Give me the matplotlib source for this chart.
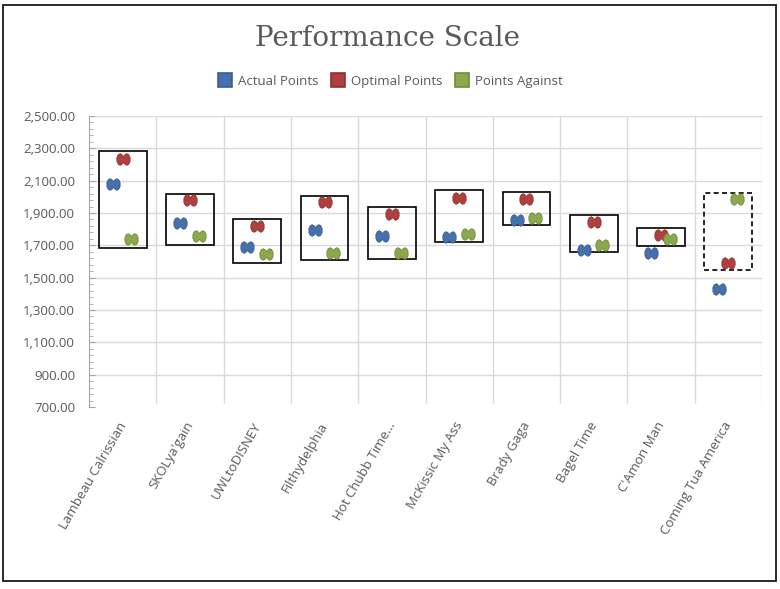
import matplotlib
matplotlib.use("Agg")
import matplotlib.pyplot as plt
from matplotlib.path import Path
from matplotlib.patches import Rectangle
from matplotlib.lines import Line2D
import matplotlib.transforms as mtransforms
import numpy as np

teams = ["Lambeau Calrissian", "SKOLya'gain", "UWLtoDISNEY", "Filthydelphia",
         "Hot Chubb Time...", "McKissic My Ass", "Brady Gaga", "Bagel Time",
         "C'Amon Man", "Coming Tua America"]
actual_points = [2077, 1836, 1689, 1793, 1757, 1751, 1856, 1669, 1650, 1429]
optimal_points = [2234, 1978, 1821, 1970, 1895, 1990, 1984, 1842, 1763, 1592]
points_against = [1737, 1757, 1644, 1650, 1654, 1768, 1869, 1700, 1737, 1984]
box_open = [1681, 1705, 1588, 1607, 1613, 1719, 1823, 1656, 1694, 2026]
box_close = [2281, 2015, 1865, 2007, 1939, 2040, 2028, 1885, 1805, 1545]
y_ticks = [700, 900, 1100, 1300, 1500, 1700, 1900, 2100, 2300, 2500]

plt.rcParams['font.family'] = ['Open Sans', 'DejaVu Sans']
TXT = '#595959'

fig = plt.figure(figsize=(7.8, 5.89), dpi=100)
ax = fig.add_axes([89/780, 1-407/589, (762-89)/780, (407-116)/589])

# double-lobed marker
verts = [(-1.0, 0.3), (-0.8, 0.72), (-0.5, 0.88), (-0.22, 0.72), (0, 0.45),
         (0.22, 0.72), (0.5, 0.88), (0.8, 0.72), (1.0, 0.3),
         (1.0, -0.3), (0.8, -0.72), (0.5, -0.88), (0.22, -0.72), (0, -0.45),
         (-0.22, -0.72), (-0.5, -0.88), (-0.8, -0.72), (-1.0, -0.3), (-1.0, 0.3)]
codes = [Path.MOVETO] + [Path.LINETO]*(len(verts)-2) + [Path.CLOSEPOLY]
dmark = Path(verts, codes)

x = np.arange(len(teams))
series = [
    ("Actual Points", actual_points, '#4670AC', '#3A5F91', -0.145),
    ("Optimal Points", optimal_points, '#B0403D', '#8E3432', 0.0),
    ("Points Against", points_against, '#8BA94C', '#708A3C', 0.13),
]

# boxes (up/down bars)
bw = 0.71
for i in range(len(teams)):
    lo = min(box_open[i], box_close[i])
    hi = max(box_open[i], box_close[i])
    ls = (0, (3, 2)) if box_open[i] > box_close[i] else '-'
    ax.add_patch(Rectangle((x[i]-bw/2, lo), bw, hi-lo, fill=False,
                           edgecolor='black', lw=1.2, linestyle=ls, zorder=3))

for name, vals, fc, ec, off in series:
    ax.plot(x+off, vals, linestyle='none', marker=dmark, markersize=9.5,
            markerfacecolor=fc, markeredgecolor=ec, markeredgewidth=0.6, zorder=4)

# grid
for yv in y_ticks[1:]:
    ax.axhline(yv, color='#D9D9D9', lw=1.0, zorder=1)
ax.vlines(np.arange(len(teams))+0.5, 725, 2500, color='#D9D9D9', lw=1.0, zorder=1)

ax.set_xlim(-0.5, len(teams)-0.5)
ax.set_ylim(700, 2500)
ax.set_yticks(y_ticks)
ax.set_yticklabels([f"{v:,.2f}" for v in y_ticks])
ax.set_yticks(np.arange(700, 2501, 40), minor=True)
ax.tick_params(axis='y', which='major', direction='in', length=4, color='#A6A6A6',
               labelsize=9.5, labelcolor=TXT, pad=10)
ax.tick_params(axis='y', which='minor', direction='in', length=3, color='#A6A6A6')
ax.set_xticks(x)
ax.set_xticklabels(teams, rotation=60, ha='right', rotation_mode='anchor')
ax.tick_params(axis='x', length=0, labelsize=9.5, labelcolor=TXT, pad=9)
shift = mtransforms.ScaledTranslation(-5/100, 0, fig.dpi_scale_trans)
for lab in ax.get_xticklabels():
    lab.set_transform(lab.get_transform() + shift)
for s in ['top', 'right', 'bottom']:
    ax.spines[s].set_visible(False)
ax.spines['left'].set_color('#A6A6A6')

# title
fig.text(387.5/780, 1-46/589, "Performance Scale", ha='center', va='baseline',
         fontsize=20, color=TXT, family=['DejaVu Serif'])

# legend
handles = [Line2D([], [], linestyle='none', marker='s', markersize=10,
                  markerfacecolor=fc, markeredgecolor=ec, markeredgewidth=1.2)
           for name, vals, fc, ec, off in series]
fig.legend(handles, [s[0] for s in series], loc='center', ncol=3,
           bbox_to_anchor=(390.5/780, 1-81/589), frameon=False, fontsize=9.5,
           labelcolor=TXT, handlelength=1.0, handletextpad=0.45, columnspacing=1.0)

# outer border
fig.patches.append(Rectangle((3.3/780, 1-580.7/589), (775.5-3.3)/780, (580.7-5.3)/589,
                             transform=fig.transFigure, fill=False,
                             edgecolor='#1a1a1a', lw=1.3, zorder=10))

fig.savefig("out.png", dpi=100, facecolor='white')
